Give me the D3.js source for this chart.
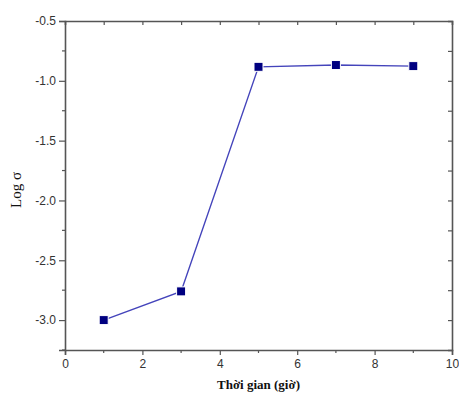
<!DOCTYPE html>
<html><head><meta charset="utf-8">
<script src="https://cdn.jsdelivr.net/npm/d3@7"></script>
<style>body{margin:0;background:#fff}svg{display:block}</style>
</head><body>
<script>
const times = [1, 3, 5, 7, 9];
const logSigma = [-3.0, -2.76, -0.883, -0.868, -0.877];
const xTicks = [0, 2, 4, 6, 8, 10];
const yTicks = [-3.0, -2.5, -2.0, -1.5, -1.0, -0.5];

const W = 459, H = 396;
const m = {l: 65, r: 7, t: 21, b: 46};
const svg = d3.select("body").append("svg").attr("width", W).attr("height", H);
const x = d3.scaleLinear().domain([0, 10]).range([m.l, W - m.r]);
const y = d3.scaleLinear().domain([-3.25, -0.5]).range([H - m.b, m.t]);
const axisColor = "#555";

function style(g) {
  g.select(".domain").attr("stroke", axisColor).attr("stroke-width", 1.6);
  g.selectAll(".tick line").attr("stroke", axisColor).attr("stroke-width", 1.2);
  g.selectAll(".tick text").attr("fill", "#333").style("font-family", "Liberation Sans, Arial, sans-serif").style("font-size", "12px");
}
const xMinor = d3.range(1, 10, 2);
const yMinor = d3.range(-3.25, -0.49, 0.5);

// bottom
const gb = svg.append("g").attr("transform", `translate(0,${H - m.b})`);
gb.call(d3.axisBottom(x).tickValues(xTicks).tickSize(5).tickPadding(4).tickFormat(d3.format("d")));
gb.selectAll(".tickm").data(xMinor).enter().append("line").attr("class","tickm")
  .attr("x1", d => x(d)).attr("x2", d => x(d)).attr("y1", 0).attr("y2", 3);
style(gb); gb.selectAll(".tickm").attr("stroke", axisColor).attr("stroke-width", 1.2);
// top
const gt = svg.append("g").attr("transform", `translate(0,${m.t})`);
gt.call(d3.axisTop(x).tickValues(d3.range(1, 10, 1)).tickSize(-4).tickFormat(""));
style(gt);
// left
const gl = svg.append("g").attr("transform", `translate(${m.l},0)`);
gl.call(d3.axisLeft(y).tickValues(yTicks).tickSize(6).tickPadding(3).tickFormat(d3.format(".1f")));
gl.selectAll(".tickm").data(yMinor).enter().append("line").attr("class","tickm")
  .attr("x1", 0).attr("x2", -3).attr("y1", d => y(d)).attr("y2", d => y(d));
style(gl); gl.selectAll(".tickm").attr("stroke", axisColor).attr("stroke-width", 1.2);
gl.selectAll(".tick text").text(d => d3.format(".1f")(d).replace("\u2212", "-"));
// right
const gr = svg.append("g").attr("transform", `translate(${W - m.r},0)`);
gr.call(d3.axisRight(y).tickValues(d3.range(-3.0, -0.6, 0.25)).tickSize(-4).tickFormat(""));
style(gr);

// line
const pts = times.map((t, i) => [t, logSigma[i]]);
svg.append("path").datum(pts)
  .attr("fill", "none").attr("stroke", "#4444bb").attr("stroke-width", 1.4)
  .attr("d", d3.line().x(d => x(d[0])).y(d => y(d[1])));
svg.selectAll(".pt").data(pts).enter().append("rect")
  .attr("x", d => x(d[0]) - 4.5).attr("y", d => y(d[1]) - 4.5)
  .attr("width", 9).attr("height", 9)
  .attr("fill", "#000080").attr("stroke", "#fff").attr("stroke-width", 1);

// titles
svg.append("text").attr("x", (m.l + W - m.r) / 2 + 0).attr("y", 389)
  .attr("text-anchor", "middle").style("font-family", "Liberation Serif, Times New Roman, serif")
  .style("font-weight", "bold").style("font-size", "13px").attr("fill", "#111").text("Thời gian (giờ)");
svg.append("text").attr("transform", "translate(21,190) rotate(-90)")
  .attr("text-anchor", "middle").style("font-family", "Liberation Serif, Times New Roman, serif")
  .style("font-size", "15px").attr("fill", "#111").text("Log σ");
</script>
</body></html>
